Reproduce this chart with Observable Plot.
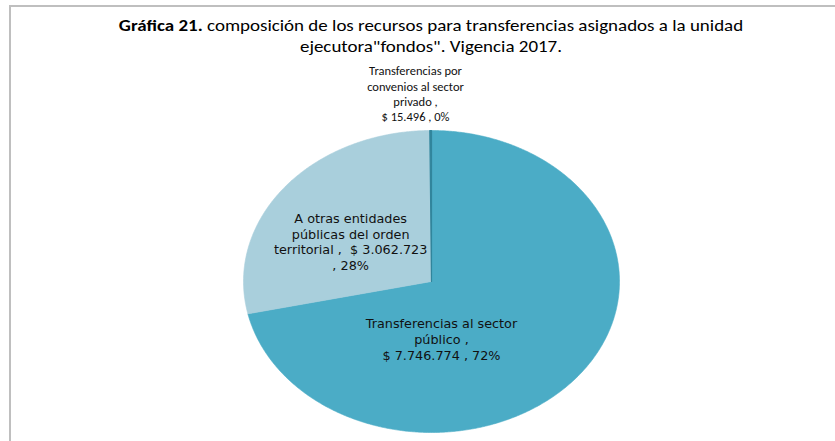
<!DOCTYPE html>
<html>
<head>
<meta charset="utf-8">
<script src="https://cdn.jsdelivr.net/npm/d3@7"></script>
<script src="https://cdn.jsdelivr.net/npm/@observablehq/plot@0.6"></script>
<style>
  html, body { margin: 0; padding: 0; background: #fff; }
  #wrap { position: relative; width: 835px; height: 441px; overflow: hidden; }
  #frame { position: absolute; left: 9px; top: 5px; right: -4px; bottom: -4px; border-top: 2px solid #bfbfbf; border-left: 2px solid #bfbfbf; pointer-events: none; }
  #title { position: absolute; left: 0; width: 862px; top: 15px; text-align: center; font-family: Carlito, Lato, sans-serif; font-size: 15.8px; line-height: 21px; color: #000; transform: scaleX(1.2); transform-origin: 431px 0; }
  #chart { position: absolute; left: 0; top: 0; }
</style>
</head>
<body>
<div id="wrap">
  <div id="chart"></div>
  <div id="frame"></div>
  <div id="title"><b>Gráfica 21.</b> composición de los recursos para transferencias asignados a la unidad<br>ejecutora"fondos". Vigencia 2017.</div>
</div>
<script>
// ---- data ----
const categories = [
  "Transferencias al sector público",
  "A otras entidades públicas del orden territorial",
  "Transferencias por convenios al sector privado"
];
const values = [7746774, 3062723, 15496];
const colors = ["#4bacc6", "#a9cfdc", "#31859c"];

// ---- layout options (not data) ----
const labelPos = [
  {x: 0.053, y: -0.383},  // sector público
  {x: -0.43, y: 0.265},   // otras entidades
  {x: -0.085, y: 1.245}   // sector privado (outside)
];

const total = d3.sum(values);
const pct = values.map(v => Math.round(v / total * 100));
const num = v => d3.format(",")(v).replace(/,/g, ".");

const labelTexts = [
  `Transferencias al sector\npúblico ,\n$ ${num(values[0])} , ${pct[0]}%`,
  `A otras entidades\npúblicas del orden\nterritorial ,  $ ${num(values[1])}\n, ${pct[1]}%`,
  `Transferencias por\nconvenios al sector\nprivado ,\n$ ${num(values[2])} , ${pct[2]}%`
];

const arcs = d3.pie().sort(null).value(d => d)(values);

function slicePoints(a, i) {
  const pts = [{x: 0, y: 0, i}];
  const n = Math.max(2, Math.ceil((a.endAngle - a.startAngle) / (Math.PI / 360)));
  for (let k = 0; k <= n; k++) {
    const t = a.startAngle + (a.endAngle - a.startAngle) * k / n;
    pts.push({x: Math.sin(t), y: Math.cos(t), i});
  }
  pts.push({x: 0, y: 0, i});
  return pts;
}

const sliceMarks = arcs.map((a, i) =>
  Plot.line(slicePoints(a, i), {
    x: "x", y: "y",
    fill: colors[i],
    stroke: colors[i],
    strokeWidth: i === 2 ? 1.2 : 0.6,
    curve: "linear"
  })
);

const labelData = labelPos.map((p, i) => ({...p, text: labelTexts[i], i}));

const chart = Plot.plot({
  width: 835,
  height: 441,
  margin: 0,
  x: {domain: [-1, 1], range: [243, 619], axis: null},
  y: {domain: [-1, 1], range: [432, 130], axis: null},
  marks: [
    ...sliceMarks,
    Plot.text(labelData.filter(d => d.i === 0), {
      x: "x", y: "y", text: "text",
      fontFamily: "DejaVu Sans, sans-serif",
      fontSize: 12.8,
      lineHeight: 1.25,
      fill: "#111",
      textAnchor: "middle"
    }),
    Plot.text(labelData.filter(d => d.i === 1), {
      x: "x", y: "y", text: "text",
      fontFamily: "DejaVu Sans, sans-serif",
      fontSize: 12.8,
      lineHeight: 1.22,
      fill: "#111",
      textAnchor: "middle"
    }),
    Plot.text(labelData.filter(d => d.i === 2), {
      x: "x", y: "y", text: "text",
      fontFamily: "Carlito, Lato, sans-serif",
      fontSize: 12.5,
      lineHeight: 1.23,
      fill: "#111",
      textAnchor: "middle"
    })
  ]
});
document.getElementById("chart").appendChild(chart);
</script>
</body>
</html>
